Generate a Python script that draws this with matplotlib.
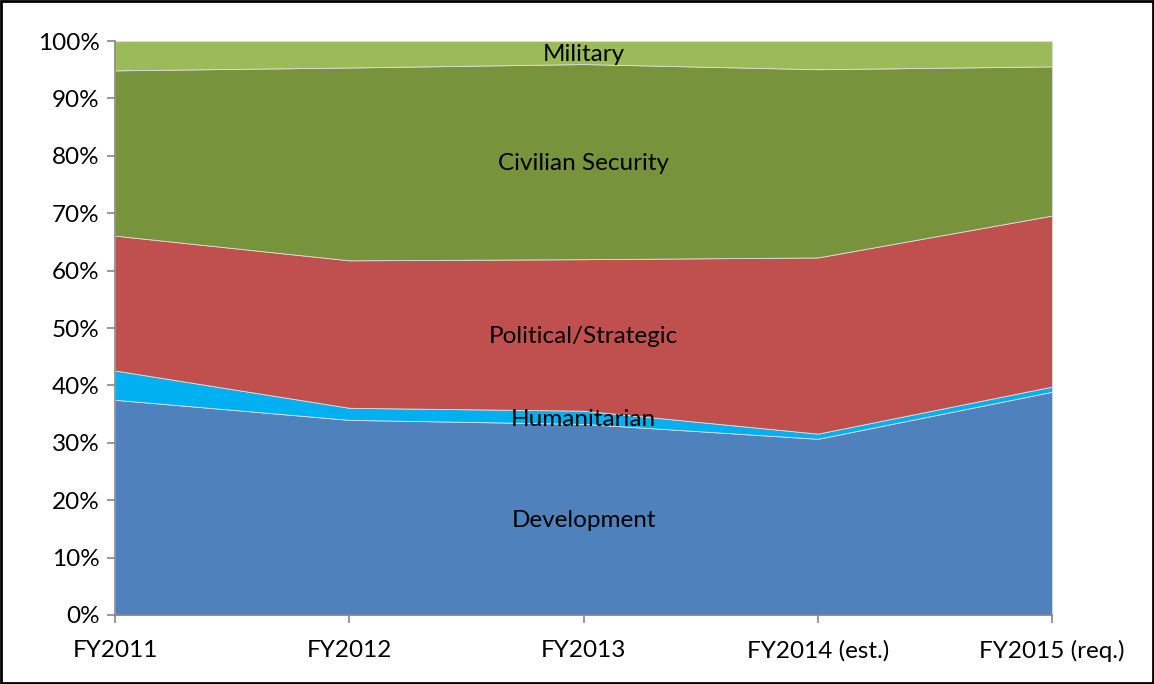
import matplotlib
matplotlib.use('Agg')
import matplotlib.pyplot as plt
import numpy as np

years = ['FY2011', 'FY2012', 'FY2013', 'FY2014 (est.)', 'FY2015 (req.)']
development = [37.5, 34.0, 33.3, 30.7, 38.9]
humanitarian = [5.1, 2.1, 2.3, 0.9, 0.9]
political = [23.5, 25.7, 26.4, 30.7, 29.8]
civilian = [28.8, 33.6, 34.0, 32.8, 26.0]
military = [5.1, 4.6, 4.0, 4.9, 4.4]

names = ['Development', 'Humanitarian', 'Political/Strategic', 'Civilian Security', 'Military']
colors = ['#4F81BD', '#00B0F0', '#C0504D', '#77933C', '#9BBB59']
label_y = [16.4, 34.0, 48.6, 78.7, 97.6]

plt.rcParams['font.family'] = ['Lato', 'DejaVu Sans']

fig = plt.figure(figsize=[11.54, 6.84], dpi=100)
ax = fig.add_axes([0.0997, 0.1009, 0.812, 0.839])

x = np.arange(len(years))
ax.stackplot(x, development, humanitarian, political, civilian, military,
             colors=colors, edgecolor='#dddddd', linewidth=0.6)

for name, yy in zip(names, label_y):
    ax.text(2, yy, name, ha='center', va='center', fontsize=17.5, color='black')

ax.set_xlim(0, 4)
ax.set_ylim(0, 100)
ax.set_xticks(x)
ax.set_xticklabels(years, fontsize=17.5)
ax.set_yticks(np.arange(0, 101, 10))
ax.set_yticklabels([f'{v}%' for v in range(0, 101, 10)], fontsize=17.5)
ax.tick_params(axis='both', direction='out', length=6, color='#868686', width=1.2)
ax.tick_params(axis='x', pad=12)
ax.tick_params(axis='y', pad=5)
for s in ['top', 'right']:
    ax.spines[s].set_visible(False)
for s in ['left', 'bottom']:
    ax.spines[s].set_color('#868686')
    ax.spines[s].set_linewidth(1.2)

# outer frame like the original
fig.patches.append(plt.Rectangle((0.001, 0.001), 0.998, 0.997, transform=fig.transFigure,
                                 fill=False, edgecolor='black', linewidth=2))

plt.savefig('out.png', dpi=100)
